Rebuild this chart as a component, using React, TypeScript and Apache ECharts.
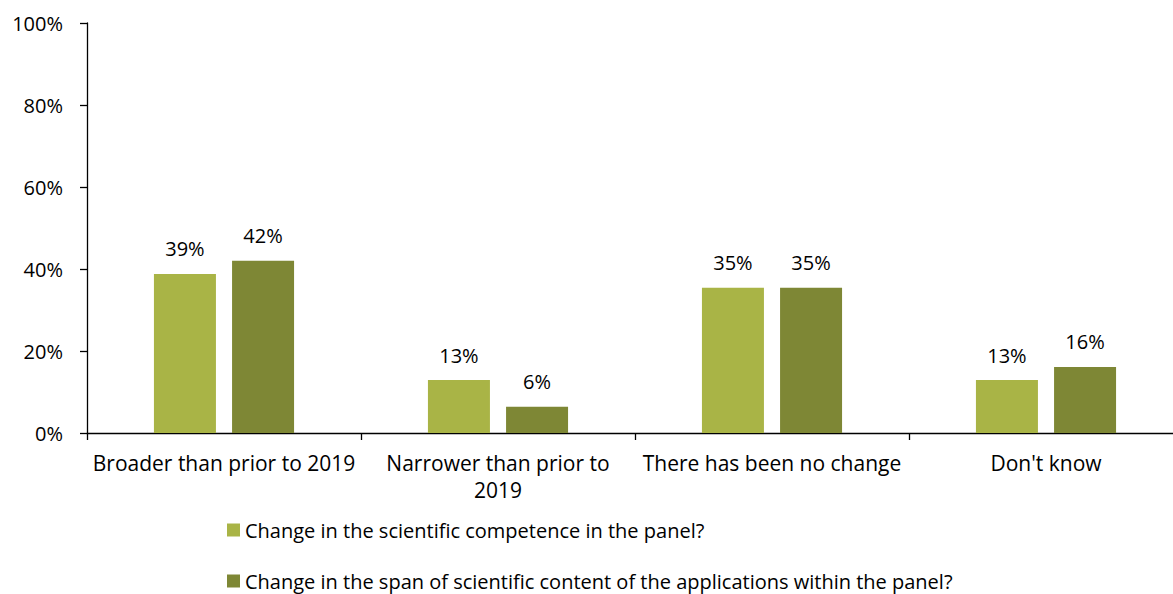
import React, { useEffect, useRef } from "react";
import * as echarts from "echarts";

const categories = [
  "Broader than prior to 2019",
  "Narrower than prior to\n2019",
  "There has been no change",
  "Don't know",
];
const seriesNames = [
  "Change in the scientific competence in the panel?",
  "Change in the span of scientific content of the applications within the panel?",
];
const competence = [38.8, 12.9, 35.4, 12.9];
const span = [42.0, 6.4, 35.4, 16.1];
const yTicks = [0, 20, 40, 60, 80, 100];

const FONT = "'Open Sans', Lato, sans-serif";
const FS = 20;

export default function App() {
  const ref = useRef<HTMLDivElement>(null);
  useEffect(() => {
    if (!ref.current) return;
    const chart = echarts.init(ref.current, undefined, { renderer: "svg" });
    const labelCfg = {
      show: true,
      position: "top" as const,
      distance: 15,
      color: "#000",
      fontSize: FS,
      fontFamily: FONT,
      formatter: (p: any) => Math.round(p.value) + "%",
    };
    const legendBase = {
      orient: "vertical",
      left: 227,
      padding: 0,
      itemWidth: 13,
      itemHeight: 13,
      icon: "rect",
      textStyle: { fontSize: FS, color: "#000", fontFamily: FONT, lineHeight: 22 },
    };
    chart.setOption({
      animation: false,
      textStyle: { fontFamily: FONT },
      grid: { left: 87, top: 23, right: 17, bottom: 161, containLabel: false },
      legend: [
        { ...legendBase, top: 519, data: [seriesNames[0]] },
        { ...legendBase, top: 570, data: [seriesNames[1]] },
      ],
      xAxis: {
        type: "category",
        data: categories,
        axisLine: { lineStyle: { color: "#000", width: 1.3 } },
        axisTick: { show: true, length: 7, alignWithLabel: false, lineStyle: { color: "#000", width: 1.3 } },
        axisLabel: { color: "#000", fontSize: 21, fontFamily: FONT, margin: 16, lineHeight: 27, interval: 0 },
      },
      yAxis: {
        type: "value",
        min: yTicks[0],
        max: yTicks[yTicks.length - 1],
        interval: 20,
        splitLine: { show: false },
        axisLine: { show: true, lineStyle: { color: "#000", width: 1.3 } },
        axisTick: { show: true, length: 7, lineStyle: { color: "#000", width: 1.3 } },
        axisLabel: { color: "#000", fontSize: FS, fontFamily: FONT, margin: 24, formatter: (v: number) => v + "%" },
      },
      series: [
        {
          name: seriesNames[0],
          type: "bar",
          data: competence,
          barWidth: 62,
          barGap: "26%",
          itemStyle: { color: "#a9b446" },
          label: labelCfg,
        },
        {
          name: seriesNames[1],
          type: "bar",
          data: span,
          barWidth: 62,
          itemStyle: { color: "#7e8735" },
          label: labelCfg,
        },
      ],
    });
    return () => chart.dispose();
  }, []);
  return (
    <div style={{ position: "fixed", left: 0, top: 0, width: 1173, height: 594, overflow: "hidden", background: "#fff" }}>
      <div ref={ref} style={{ width: 1200, height: 594 }} />
    </div>
  );
}
